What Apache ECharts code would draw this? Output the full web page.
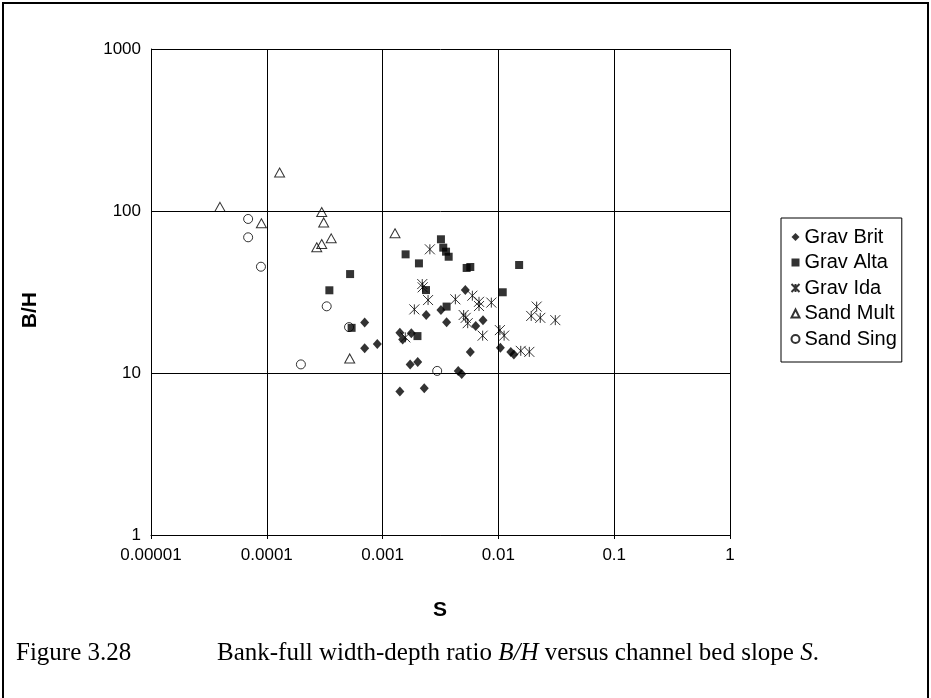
<!DOCTYPE html>
<html>
<head>
<meta charset="utf-8">
<script src="https://cdn.jsdelivr.net/npm/echarts@6/dist/echarts.min.js"></script>
<style>
  html, body { margin: 0; padding: 0; background: #fff; }
  #main { width: 931px; height: 698px; }
</style>
</head>
<body>
<div id="main"></div>
<script>
// [S, B/H] pairs
var gravBrit = [
  [7.0e-4, 20.5], [7.0e-4, 14.2], [9.0e-4, 15.1], [1.41e-3, 17.7], [1.49e-3, 16.1],
  [1.77e-3, 17.6], [1.73e-3, 11.3], [2.01e-3, 11.7], [1.41e-3, 7.7], [2.29e-3, 8.05],
  [2.38e-3, 22.8], [3.19e-3, 24.5], [3.57e-3, 20.6], [5.18e-3, 32.5], [6.37e-3, 19.5],
  [7.36e-3, 21.2], [5.72e-3, 13.5], [4.5e-3, 10.3], [4.82e-3, 9.86], [1.04e-2, 14.3],
  [1.28e-2, 13.5], [1.36e-2, 13.0]
];
var gravAlta = [
  [5.24e-4, 40.8], [3.47e-4, 32.4], [5.4e-4, 19.0], [1.58e-3, 54], [2.06e-3, 47.5],
  [3.19e-3, 66.9], [3.34e-3, 59.4], [3.53e-3, 56.1], [3.72e-3, 52.2], [5.32e-3, 44.5],
  [5.72e-3, 45.1], [1.51e-2, 46.4], [1.09e-2, 31.5], [2.37e-3, 32.5], [3.57e-3, 25.7],
  [2.0e-3, 16.9]
];
var gravIda = [
  [2.56e-3, 58.0], [2.2e-3, 35.4], [2.22e-3, 33.8], [2.47e-3, 28.2], [1.88e-3, 24.7],
  [4.25e-3, 28.5], [5.96e-3, 30.0], [6.8e-3, 27.5], [6.8e-3, 25.9], [8.69e-3, 27.2],
  [5.01e-3, 22.8], [5.22e-3, 21.9], [5.43e-3, 20.3], [7.31e-3, 17.0], [1.03e-2, 18.4],
  [1.12e-2, 17.0], [1.56e-2, 13.7], [1.85e-2, 13.5], [2.14e-2, 25.7], [1.92e-2, 22.5],
  [2.3e-2, 21.9], [3.1e-2, 21.2], [1.57e-3, 16.6]
];
var sandMult = [
  [1.29e-4, 173], [3.94e-5, 106], [8.98e-5, 84], [2.98e-4, 98.6], [3.1e-4, 85],
  [3.6e-4, 67.8], [2.98e-4, 62.6], [2.7e-4, 59.7], [5.2e-4, 12.3], [1.28e-3, 72.8]
];
var sandSing = [
  [6.9e-5, 89.3], [6.9e-5, 68.8], [8.9e-5, 45.3], [3.29e-4, 25.8], [5.13e-4, 19.2],
  [1.97e-4, 11.3], [2.96e-3, 10.3]
];
var seriesNames = ['Grav Brit', 'Grav Alta', 'Grav Ida', 'Sand Mult', 'Sand Sing'];
var xTickLabels = ['0.00001', '0.0001', '0.001', '0.01', '0.1', '1'];
var yTickLabels = ['1', '10', '100', '1000'];

var asterisk = 'path://M0,0L10,10M10,0L0,10M5,0L5,10';

var option = {
  backgroundColor: '#FFFFFF',
  animation: false,
  grid: { left: 151, top: 49, right: 201, bottom: 163 },
  xAxis: {
    type: 'log',
    logBase: 10,
    min: 0.00001,
    max: 1,
    axisLine: { lineStyle: { color: '#000', width: 1 } },
    axisTick: { show: true, length: 4, lineStyle: { color: '#000' } },
    splitLine: { show: true, lineStyle: { color: '#000', width: 1 } },
    axisLabel: {
      color: '#000', fontSize: 17, fontFamily: 'Liberation Sans', margin: 12,
      formatter: function (v) {
        return xTickLabels[Math.round(Math.log10(v)) + 5];
      }
    }
  },
  yAxis: {
    type: 'log',
    logBase: 10,
    min: 1,
    max: 1000,
    axisLine: { show: true, lineStyle: { color: '#000', width: 1 } },
    axisTick: { show: false },
    splitLine: { show: true, lineStyle: { color: '#000', width: 1 } },
    axisLabel: {
      color: '#000', fontSize: 17, fontFamily: 'Liberation Sans', margin: 10,
      formatter: function (v) {
        return yTickLabels[Math.round(Math.log10(v))];
      }
    }
  },
  legend: {
    orient: 'vertical',
    left: 781,
    top: 218,
    width: 112,
    backgroundColor: '#fff',
    borderColor: '#000',
    borderWidth: 1,
    padding: [9, 5, 13, 8],
    itemWidth: 8,
    itemHeight: 8,
    itemGap: 5.5,
    textStyle: { color: '#000', fontSize: 20, fontFamily: 'Liberation Sans', lineHeight: 20 },
    data: seriesNames
  },
  graphic: [
    // outer figure frame
    { type: 'polyline', shape: { points: [[3, 698], [3, 3], [928, 3], [928, 698]] },
      style: { stroke: '#000', lineWidth: 2, fill: null } },
    { type: 'text', left: 20, top: 292, rotation: Math.PI / 2,
      style: { text: 'B/H', x: 0, y: 0, fill: '#000', font: 'bold 21px "Liberation Sans"',
               align: 'center', verticalAlign: 'middle' }, originX: 0, originY: 0 },
    { type: 'text', x: 440, y: 610,
      style: { text: 'S', fill: '#000', font: 'bold 21px "Liberation Sans"',
               align: 'center', verticalAlign: 'middle' } },
    { type: 'text', x: 16, y: 653,
      style: { text: 'Figure 3.28', fill: '#000', font: '25px "Liberation Serif"',
               verticalAlign: 'middle' } },
    { type: 'text', x: 217, y: 653,
      style: {
        text: 'Bank-full width-depth ratio {i|B/H} versus channel bed slope {i|S}.',
        fill: '#000', font: '25px "Liberation Serif"', verticalAlign: 'middle',
        rich: { i: { fontStyle: 'italic', fontSize: 25, fontFamily: 'Liberation Serif' } }
      } }
  ],
  series: [
    {
      name: seriesNames[0], type: 'scatter', data: gravBrit,
      symbol: 'diamond', symbolSize: [9, 10],
      itemStyle: { color: '#000' }
    },
    {
      name: seriesNames[1], type: 'scatter', data: gravAlta,
      symbol: 'rect', symbolSize: 8,
      itemStyle: { color: '#000' }
    },
    {
      name: seriesNames[2], type: 'scatter', data: gravIda,
      symbol: asterisk, symbolSize: 10,
      itemStyle: { color: 'none', borderColor: '#000', borderWidth: 1 }
    },
    {
      name: seriesNames[3], type: 'scatter', data: sandMult,
      symbol: 'triangle', symbolSize: [10, 9],
      itemStyle: { color: 'none', borderColor: '#000', borderWidth: 1 }
    },
    {
      name: seriesNames[4], type: 'scatter', data: sandSing,
      symbol: 'circle', symbolSize: 9,
      itemStyle: { color: 'none', borderColor: '#000', borderWidth: 1 }
    }
  ]
};
var chart = echarts.init(document.getElementById('main'));
chart.setOption(option);
</script>
</body>
</html>
